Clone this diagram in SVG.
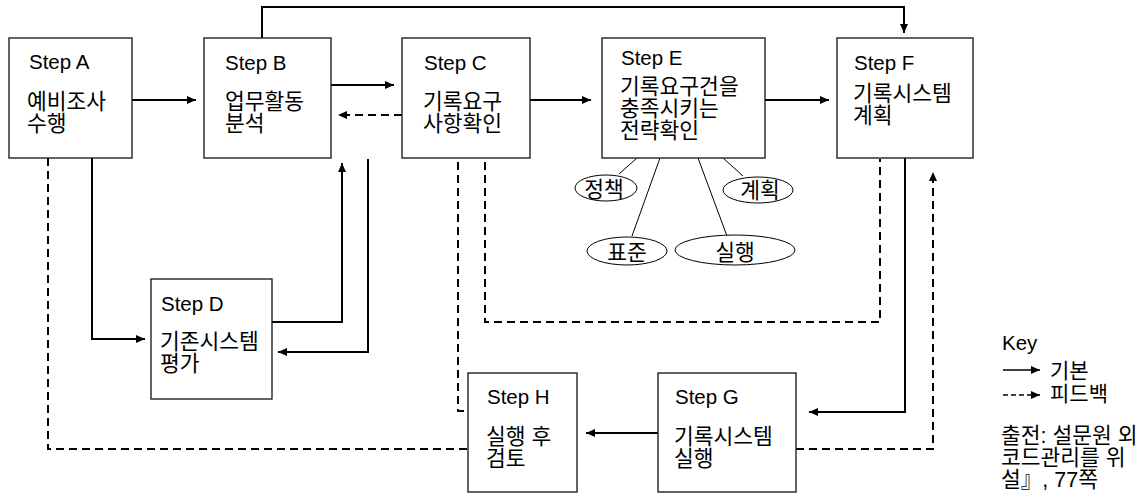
<svg xmlns="http://www.w3.org/2000/svg" width="1142" height="498" viewBox="0 0 1142 498">
<defs>
<style>
.box{fill:#fff;stroke:#222;stroke-width:1.4}
.t{font-family:"Liberation Sans","Noto Sans CJK KR",sans-serif;font-size:21.5px;fill:#000}
.s{font-size:20.5px}
.k{font-family:"Liberation Sans","Noto Sans CJK KR",sans-serif;font-size:21px;fill:#000}
.c{fill:none;stroke:#000;stroke-width:2}
.d{fill:none;stroke:#000;stroke-width:2;stroke-dasharray:8 5}
.thin{fill:none;stroke:#000;stroke-width:1}
.ell{fill:#fff;stroke:#000;stroke-width:1}
</style>
<marker id="ah" markerUnits="userSpaceOnUse" markerWidth="10" markerHeight="8" refX="9" refY="4" orient="auto">
<path d="M0,0 L9,4 L0,8 Z" fill="#000"/>
</marker>
</defs>
<rect width="1142" height="498" fill="#fff"/>
<g id="connectors">
<path class="c" d="M132,100 H196" marker-end="url(#ah)"/>
<path class="c" d="M331,85 H394" marker-end="url(#ah)"/>
<path class="d" d="M402,115 H338" marker-end="url(#ah)"/>
<path class="c" d="M530,100 H591" marker-end="url(#ah)"/>
<path class="c" d="M765,100 H829" marker-end="url(#ah)"/>
<path class="c" d="M262,38 V7 H904 V33" marker-end="url(#ah)"/>
<path class="c" d="M92,158 V339 H145" marker-end="url(#ah)"/>
<path class="c" d="M272,322 H342 V163" marker-end="url(#ah)"/>
<path class="c" d="M368,159 V352 H278" marker-end="url(#ah)"/>
<path class="d" d="M48,158 V449 H468"/>
<path class="d" d="M485,162 V322 H880 V159"/>
<path class="d" d="M458,162 V411 H468"/>
<path class="c" d="M905,158 V412 H809" marker-end="url(#ah)"/>
<path class="c" d="M658,433 H586" marker-end="url(#ah)"/>
<path class="d" d="M796,449 H933 V172" marker-end="url(#ah)"/>
<path class="thin" d="M637,158 L619,174"/>
<path class="thin" d="M660,158 L632,236"/>
<path class="thin" d="M698,158 L727,236"/>
<path class="thin" d="M723,158 L743,176"/>
</g>
<g id="stepA"><rect class="box" x="9" y="38" width="123" height="120"/>
<text class="t s" x="29" y="69">Step A</text>
<text class="t" x="27" y="109">예비조사</text><text class="t" x="27" y="131">수행</text></g>
<g id="stepB"><rect class="box" x="204" y="38" width="127" height="120"/>
<text class="t s" x="225" y="70">Step B</text>
<text class="t" x="225" y="109">업무활동</text><text class="t" x="225" y="131">분석</text></g>
<g id="stepC"><rect class="box" x="402" y="38" width="128" height="120"/>
<text class="t s" x="424" y="70">Step C</text>
<text class="t" x="423" y="109">기록요구</text><text class="t" x="423" y="131">사항확인</text></g>
<g id="stepE"><rect class="box" x="602" y="38" width="163" height="120"/>
<text class="t s" x="621" y="65">Step E</text>
<text class="t" x="620" y="94">기록요구건을</text><text class="t" x="620" y="116">충족시키는</text><text class="t" x="620" y="138">전략확인</text></g>
<g id="stepF"><rect class="box" x="837" y="38" width="136" height="120"/>
<text class="t s" x="854" y="70">Step F</text>
<text class="t" x="853" y="101">기록시스템</text><text class="t" x="853" y="123">계획</text></g>
<g id="stepD"><rect class="box" x="151" y="279" width="121" height="120"/>
<text class="t s" x="161" y="311">Step D</text>
<text class="t" x="160" y="349">기존시스템</text><text class="t" x="160" y="371">평가</text></g>
<g id="stepH"><rect class="box" x="468" y="373" width="109" height="119"/>
<text class="t s" x="487" y="404">Step H</text>
<text class="t" x="486" y="444">실행 후</text><text class="t" x="486" y="466">검토</text></g>
<g id="stepG"><rect class="box" x="658" y="373" width="138" height="119"/>
<text class="t s" x="675" y="404">Step G</text>
<text class="t" x="674" y="444">기록시스템</text><text class="t" x="674" y="466">실행</text></g>
<g id="policy"><ellipse class="ell" cx="606" cy="188" rx="31" ry="13"/><text class="t" x="604" y="197" text-anchor="middle">정책</text></g>
<g id="plan"><ellipse class="ell" cx="758" cy="190" rx="35" ry="13"/><text class="t" x="760" y="198" text-anchor="middle">계획</text></g>
<g id="standard"><ellipse class="ell" cx="627" cy="251" rx="40" ry="14"/><text class="t" x="627" y="260" text-anchor="middle">표준</text></g>
<g id="execute"><ellipse class="ell" cx="735" cy="250" rx="60" ry="15"/><text class="t" x="735" y="260" text-anchor="middle">실행</text></g>
<g id="key">
<text class="t s" x="1002" y="350">Key</text>
<path d="M1003,370 H1040" stroke="#000" stroke-width="1.5" marker-end="url(#ah)"/>
<path d="M1003,395 H1040" stroke="#000" stroke-width="1.5" stroke-dasharray="5 3" marker-end="url(#ah)"/>
<text class="k" x="1050" y="378">기본</text>
<text class="k" x="1050" y="401">피드백</text>
<text class="t" x="1001" y="443">출전: 설문원 외</text>
<text class="t" x="1001" y="465">코드관리를 위</text>
<text class="t" x="1001" y="487">설』, 77쪽</text>
</g>
</svg>
